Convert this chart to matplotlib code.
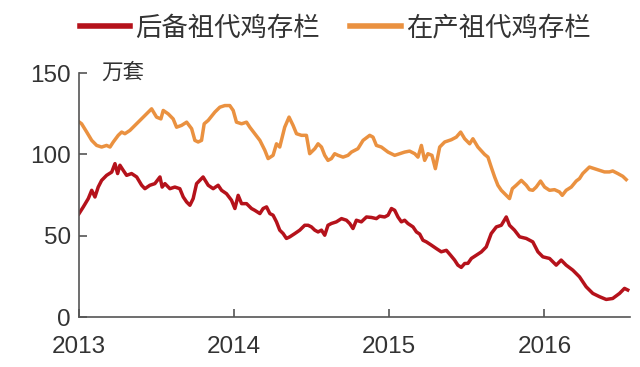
import matplotlib
matplotlib.use("Agg")
import matplotlib.pyplot as plt

plt.rcParams['font.family'] = ['Liberation Sans', 'Noto Sans CJK SC', 'DejaVu Sans']

series_names = ["后备祖代鸡存栏", "在产祖代鸡存栏"]
unit_label = "万套"
x_ticks = [2013, 2014, 2015, 2016]
y_ticks = [0, 50, 100, 150]

# 后备祖代鸡存栏 (reserve), time in decimal years
t_reserve = [
    2013.000, 2013.028, 2013.060, 2013.082, 2013.103, 2013.124, 2013.146, 2013.178,
    2013.211, 2013.232, 2013.249, 2013.264, 2013.285, 2013.307, 2013.339, 2013.372,
    2013.404, 2013.425, 2013.457, 2013.489, 2013.522, 2013.536, 2013.554, 2013.586,
    2013.618, 2013.650, 2013.672, 2013.694, 2013.715, 2013.736, 2013.758, 2013.800,
    2013.833, 2013.865, 2013.897, 2013.919, 2013.951, 2013.983, 2014.005, 2014.026,
    2014.048, 2014.080, 2014.112, 2014.133, 2014.166, 2014.187, 2014.209, 2014.230,
    2014.251, 2014.273, 2014.294, 2014.316, 2014.337, 2014.359, 2014.391, 2014.423,
    2014.455, 2014.477, 2014.498, 2014.520, 2014.541, 2014.563, 2014.584, 2014.605,
    2014.627, 2014.659, 2014.692, 2014.724, 2014.745, 2014.766, 2014.788, 2014.820,
    2014.853, 2014.885, 2014.917, 2014.938, 2014.970, 2014.992, 2015.014, 2015.035,
    2015.056, 2015.078, 2015.099, 2015.120, 2015.153, 2015.175, 2015.196, 2015.217,
    2015.239, 2015.271, 2015.303, 2015.335, 2015.368, 2015.395, 2015.421, 2015.442,
    2015.464, 2015.486, 2015.507, 2015.529, 2015.561, 2015.593, 2015.625, 2015.657,
    2015.690, 2015.722, 2015.754, 2015.775, 2015.807, 2015.840, 2015.883, 2015.925,
    2015.958, 2015.990, 2016.033, 2016.076, 2016.108, 2016.140, 2016.183, 2016.226,
    2016.269, 2016.312, 2016.355, 2016.398, 2016.440, 2016.484, 2016.516, 2016.537,
]
v_reserve = [
    63.5, 67.7, 72.8, 77.9, 73.8, 79.9, 84.0, 87.1,
    89.1, 94.3, 88.2, 93.3, 90.2, 87.1, 88.2, 86.1,
    81.0, 78.9, 81.0, 82.0, 86.1, 79.9, 82.0, 78.9,
    79.9, 78.9, 73.8, 70.7, 68.7, 72.8, 82.0, 86.1,
    81.0, 78.9, 81.0, 77.9, 75.8, 71.8, 66.7, 74.8,
    69.7, 69.7, 66.7, 65.6, 63.6, 66.7, 67.7, 63.6,
    62.6, 58.5, 53.4, 51.3, 48.3, 49.3, 51.3, 53.4,
    56.4, 56.4, 55.4, 53.4, 52.3, 53.4, 50.3, 56.4,
    57.5, 58.5, 60.5, 59.5, 57.5, 54.4, 59.5, 58.5,
    61.5, 61.2, 60.5, 62.0, 61.5, 62.6, 66.7, 65.6,
    61.5, 58.5, 59.5, 57.5, 55.4, 52.3, 51.0, 47.2,
    46.2, 44.2, 42.1, 40.1, 41.0, 38.0, 35.0, 31.9,
    30.5, 32.9, 33.0, 36.0, 38.0, 40.0, 43.1, 51.3,
    55.4, 56.4, 61.5, 56.4, 53.4, 49.3, 48.3, 46.2,
    40.1, 37.0, 36.0, 31.9, 35.0, 31.9, 28.8, 24.7,
    18.6, 14.5, 12.5, 10.8, 11.4, 14.5, 17.6, 16.6,
]

# 在产祖代鸡存栏 (in production)
t_prod = [
    2013.000, 2013.017, 2013.050, 2013.082, 2013.114, 2013.146, 2013.178, 2013.200,
    2013.221, 2013.253, 2013.275, 2013.296, 2013.328, 2013.361, 2013.393, 2013.425,
    2013.468, 2013.500, 2013.528, 2013.543, 2013.575, 2013.607, 2013.629, 2013.661,
    2013.694, 2013.726, 2013.747, 2013.768, 2013.790, 2013.807, 2013.833, 2013.876,
    2013.908, 2013.940, 2013.972, 2013.994, 2014.015, 2014.048, 2014.080, 2014.101,
    2014.133, 2014.166, 2014.198, 2014.219, 2014.251, 2014.273, 2014.294, 2014.326,
    2014.354, 2014.380, 2014.402, 2014.434, 2014.466, 2014.487, 2014.520, 2014.541,
    2014.563, 2014.584, 2014.605, 2014.627, 2014.648, 2014.670, 2014.702, 2014.734,
    2014.756, 2014.798, 2014.831, 2014.874, 2014.895, 2014.917, 2014.949, 2014.992,
    2015.035, 2015.067, 2015.099, 2015.131, 2015.164, 2015.185, 2015.207, 2015.228,
    2015.249, 2015.275, 2015.297, 2015.325, 2015.357, 2015.400, 2015.432, 2015.460,
    2015.486, 2015.518, 2015.539, 2015.571, 2015.614, 2015.636, 2015.657, 2015.679,
    2015.700, 2015.722, 2015.754, 2015.775, 2015.793, 2015.818, 2015.851, 2015.883,
    2015.904, 2015.925, 2015.947, 2015.975, 2016.001, 2016.033, 2016.065, 2016.097,
    2016.115, 2016.140, 2016.173, 2016.205, 2016.226, 2016.247, 2016.269, 2016.290,
    2016.323, 2016.355, 2016.387, 2016.419, 2016.440, 2016.473, 2016.505, 2016.527,
]
v_prod = [
    120.0, 118.8, 113.7, 108.6, 105.5, 104.5, 105.5, 104.5,
    107.6, 111.7, 113.7, 112.7, 114.7, 117.8, 120.9, 123.9,
    128.0, 122.9, 121.8, 127.0, 124.9, 121.8, 116.7, 117.8,
    119.8, 115.8, 108.6, 107.6, 108.6, 118.8, 120.9, 126.0,
    129.0, 130.0, 130.0, 127.0, 119.8, 118.8, 119.8, 116.7,
    112.7, 108.6, 102.5, 97.4, 99.4, 106.5, 104.5, 116.7,
    122.9, 117.8, 112.7, 111.7, 111.7, 100.4, 103.5, 106.5,
    104.5, 99.4, 96.3, 97.4, 100.4, 99.4, 98.3, 99.4,
    101.4, 103.5, 108.6, 111.7, 110.6, 105.5, 104.5, 101.4,
    99.4, 100.4, 101.4, 102.0, 100.4, 98.3, 105.5, 96.3,
    100.4, 99.4, 91.2, 104.5, 107.6, 109.0, 110.6, 113.7,
    109.6, 106.5, 109.6, 104.5, 100.0, 98.3, 92.2, 86.1,
    81.0, 77.9, 74.8, 72.8, 78.9, 81.0, 84.0, 81.0,
    78.3, 77.9, 79.9, 83.6, 79.9, 77.9, 78.3, 76.9,
    74.8, 77.9, 79.9, 83.6, 85.1, 88.2, 90.2, 92.2,
    91.2, 90.2, 89.2, 89.2, 89.8, 88.2, 86.5, 84.5,
]

red = '#B5121B'
orange = '#EA9140'
axis_col = '#555555'
text_col = '#333333'

fig = plt.figure(figsize=(6.4, 3.67), dpi=100)
ax = fig.add_axes([0.1234, 0.1362, 0.8606, 0.6648])

ax.plot(t_reserve, v_reserve, color=red, lw=2.5, label=series_names[0], solid_joinstyle='round')
ax.plot(t_prod, v_prod, color=orange, lw=2.5, label=series_names[1], solid_joinstyle='round')

ax.set_xlim(2013, 2016.55)
ax.set_ylim(0, 150)
ax.set_xticks(x_ticks)
ax.set_xticklabels([str(x) for x in x_ticks])
ax.set_yticks(y_ticks)

for s in ['top', 'right']:
    ax.spines[s].set_visible(False)
for s in ['left', 'bottom']:
    ax.spines[s].set_color(axis_col)
    ax.spines[s].set_linewidth(1.2)

ax.tick_params(axis='both', direction='in', length=6, width=1.2, color=axis_col,
               labelsize=17.5, labelcolor=text_col)
ax.tick_params(axis='x', pad=14)
ax.tick_params(axis='y', pad=6)

ax.text(0.04, 1.0, unit_label, transform=ax.transAxes, fontsize=15.5,
        color=text_col, va='center', ha='left',
        family=['Noto Sans CJK SC', 'DejaVu Sans'])

leg = fig.legend(loc='upper left', bbox_to_anchor=(0.088, 1.025), ncol=2, frameon=False,
                 prop={'family': 'Noto Sans CJK SC', 'size': 19},
                 handlelength=1.9, handletextpad=0.2, columnspacing=1.15)
for h in leg.get_lines():
    h.set_linewidth(4)
for t in leg.get_texts():
    t.set_color(text_col)

fig.savefig('out.png', dpi=100)
